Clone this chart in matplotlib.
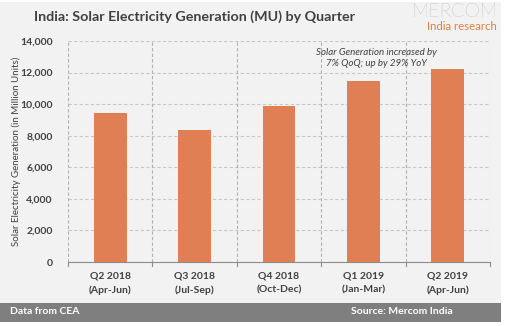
import numpy as np
import matplotlib.pyplot as plt
from matplotlib.patches import Rectangle

quarters = ["Q2 2018\n(Apr-Jun)", "Q3 2018\n(Jul-Sep)", "Q4 2018\n(Oct-Dec)",
            "Q1 2019\n(Jan-Mar)", "Q2 2019\n(Apr-Jun)"]
generation = [9470, 8380, 9890, 11450, 12210]
yticks = [0, 2000, 4000, 6000, 8000, 10000, 12000, 14000]

plt.rcParams['font.family'] = ['Lato', 'DejaVu Sans']

W, H = 506, 326
fig = plt.figure(figsize=(W / 100, H / 100), dpi=100)
fig.patch.set_facecolor("white")

# gray panel and footer band
fig.patches.append(Rectangle((0, 1 - 303 / H), 501 / W, 301 / H, transform=fig.transFigure,
                             facecolor="#f2f2f2", edgecolor="none", zorder=-2))
fig.patches.append(Rectangle((0, 1 - 322 / H), 501 / W, 19 / H, transform=fig.transFigure,
                             facecolor="#7f7f7f", edgecolor="none", zorder=-2))

ax = fig.add_axes([68 / W, 1 - 262 / H, 422 / W, 221 / H])
ax.set_facecolor("none")

x = np.arange(len(quarters))
ax.bar(x, generation, width=0.39, color="#e07f54", zorder=3)

ax.set_xlim(-0.5, len(quarters) - 0.5)
ax.set_ylim(0, 14000)
ax.set_yticks(yticks)
ax.set_yticklabels([f"{v:,}" for v in yticks], fontsize=7.5, fontweight="bold", color="#404040")
ax.set_xticks(x)
ax.set_xticklabels(quarters, fontsize=7.5, fontweight="bold", color="#404040", linespacing=1.6)
ax.tick_params(axis="y", length=0, pad=11)
ax.tick_params(axis="x", length=0, pad=7)

# horizontal grid
for v in yticks[1:]:
    ax.axhline(v, color="#c8c8c8", lw=0.8, ls=(0, (3, 2)), zorder=1)
# vertical category separators
for b in np.arange(-0.5, len(quarters), 1.0):
    ax.axvline(b, color="#b0b0b0", lw=0.8, ls=(0, (3, 2)), zorder=1)
    ax.plot([b, b], [0, -250], color="#8c8c8c", lw=0.8, clip_on=False, zorder=2)

for s in ["top", "right", "left"]:
    ax.spines[s].set_visible(False)
ax.spines["bottom"].set_color("#8c8c8c")
ax.spines["bottom"].set_linewidth(0.8)

ax.set_ylabel("Solar Electricity Generation (in Million Units)", fontsize=7, color="#404040")
ax.yaxis.set_label_coords((21 - 68) / 422, 0.5)

ax.text(3.15, 13550, "Solar Generation increased by\n7% QoQ; up by 29% YoY", fontsize=7,
        style="italic", color="#404040", ha="center", va="top", linespacing=1.3)

fig.text(34 / W, 1 - 17 / H, "India: Solar Electricity Generation (MU) by Quarter",
         fontsize=10.3, fontweight="bold", color="#404040", va="center")
fig.text(498 / W, 1 - 17 / H, "MERCOM", fontsize=14, color="#999999", ha="right",
         va="baseline", fontweight="light")
fig.text(497 / W, 1 - 21 / H, "India research", fontsize=8.2, color="#e07f3c", ha="right",
         va="top")

fig.text(10 / W, 1 - 312 / H, "Data from CEA", fontsize=7.5, fontweight="bold",
         color="white", va="center")
fig.text(453 / W, 1 - 312 / H, "Source: Mercom India", fontsize=7.5, fontweight="bold",
         color="white", va="center", ha="right")

fig.savefig("out.png", dpi=100)
